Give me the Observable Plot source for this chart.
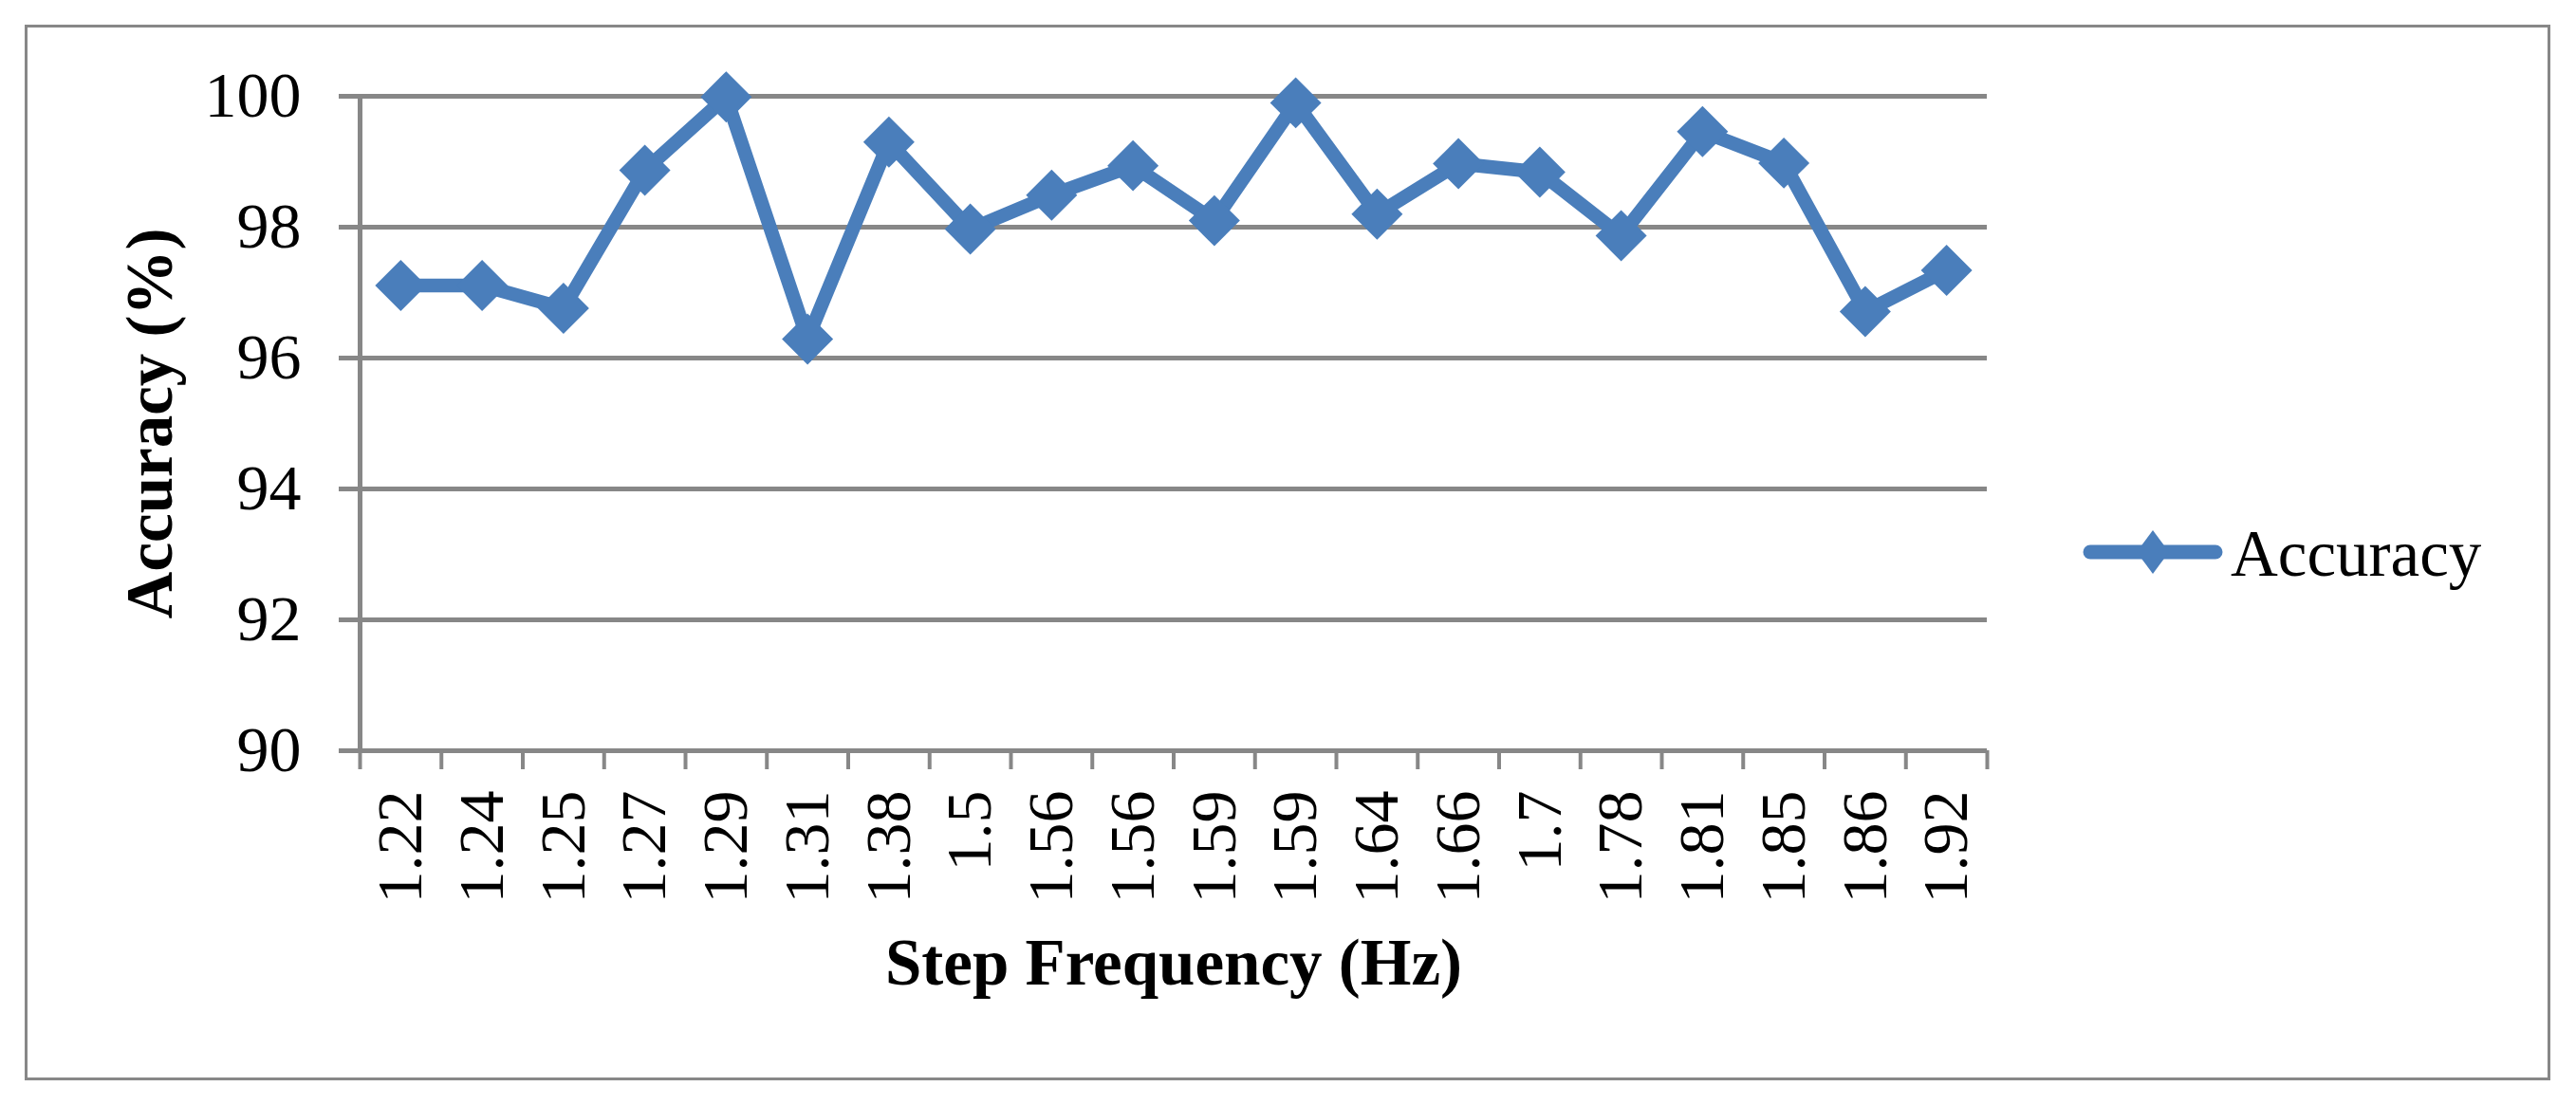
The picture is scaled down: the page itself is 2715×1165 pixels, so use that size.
<!DOCTYPE html>
<html>
<head>
<meta charset="utf-8">
<script src="https://cdn.jsdelivr.net/npm/d3@7"></script>
<script src="https://cdn.jsdelivr.net/npm/@observablehq/plot@0.6"></script>
<style>
  html, body { margin: 0; padding: 0; background: #fff; }
  #wrap { position: relative; width: 2715px; height: 1165px; }
  #legend { position: absolute; left: 0; top: 0; pointer-events: none; }
</style>
</head>
<body>
<div id="wrap"></div>
<script>
// ---- data ----
const categories = ["1.22","1.24","1.25","1.27","1.29","1.31","1.38","1.5","1.56","1.56","1.59","1.59","1.64","1.66","1.7","1.78","1.81","1.85","1.86","1.92"];
const accuracy   = [97.11,97.11,96.76,98.87,99.99,96.29,99.30,97.97,98.49,98.94,98.10,99.90,98.20,98.97,98.84,97.87,99.46,98.98,96.71,97.34];
const yTicks = [90, 92, 94, 96, 98, 100];
const seriesName = "Accuracy";
const xTitle = "Step Frequency (Hz)";
const yTitle = "Accuracy (%)";

const blue = "#4A7EBB";
const gray = "#878787";
const font = "'Liberation Serif', 'Times New Roman', serif";

const data = categories.map((c, i) => ({pos: i + 0.5, label: c, acc: accuracy[i]}));
const boundaries = d3.range(categories.length + 1);
const centers = data.map(d => d.pos);

const chart = Plot.plot({
  width: 2715,
  height: 1165,
  marginLeft: 379,
  marginRight: 621,
  marginTop: 101,
  marginBottom: 374,
  x: {type: "linear", domain: [0, categories.length], label: null},
  y: {domain: [90, 100], label: null},
  style: {fontFamily: font, background: "white", color: "black"},
  marks: [
    // outer chart border
    Plot.frame({stroke: gray, strokeWidth: 3, insetLeft: -352, insetTop: -74, insetRight: -592, insetBottom: -346}),
    // horizontal gridlines
    Plot.gridY({ticks: yTicks, stroke: gray, strokeOpacity: 1, strokeWidth: 5}),
    // y axis ticks (outside) and line
    Plot.axisY({ticks: yTicks, tickSize: 22, stroke: gray, strokeWidth: 5, text: null, label: null}),
    Plot.ruleX([0], {y1: 90, y2: 100, stroke: gray, strokeWidth: 5}),
    // y tick labels
    Plot.axisY({ticks: yTicks, tickSize: 0, tickPadding: 62, fontSize: 68, fill: "black", label: null, tickFormat: d => String(d)}),
    // x ticks at category boundaries
    Plot.axisX({ticks: boundaries, tickSize: 20, stroke: gray, strokeWidth: 4, text: null, label: null}),
    // x category labels
    Plot.axisX({ticks: centers, tickSize: 0, tickPadding: 42, tickRotate: -90, fontSize: 68, fill: "black", label: null,
      tickFormat: d => categories[Math.floor(d)]}),
    // data
    Plot.line(data, {x: "pos", y: "acc", stroke: blue, strokeWidth: 14.5, strokeLinejoin: "round"}),
    Plot.dot(data, {x: "pos", y: "acc", symbol: "diamond2", r: 24.3, fill: blue, stroke: null}),
    // titles
    Plot.text([yTitle], {frameAnchor: "left", dx: -199, rotate: -90, textAnchor: "middle", lineAnchor: "bottom", fontSize: 69, fontWeight: "bold", fill: "black"}),
    Plot.text([xTitle], {frameAnchor: "bottom", dy: 246, textAnchor: "middle", lineAnchor: "bottom", fontSize: 69, fontWeight: "bold", fill: "black"})
  ]
});

const wrap = document.getElementById("wrap");
wrap.appendChild(chart);

// legend (added beside the plot)
const ns = "http://www.w3.org/2000/svg";
const leg = document.createElementNS(ns, "svg");
leg.setAttribute("id", "legend");
leg.setAttribute("width", 2715);
leg.setAttribute("height", 1165);
const ln = document.createElementNS(ns, "line");
ln.setAttribute("x1", 2203); ln.setAttribute("x2", 2335);
ln.setAttribute("y1", 582); ln.setAttribute("y2", 582);
ln.setAttribute("stroke", blue); ln.setAttribute("stroke-width", 15); ln.setAttribute("stroke-linecap", "round");
leg.appendChild(ln);
const dm = document.createElementNS(ns, "path");
dm.setAttribute("d", "M2269,559 L2286,582 L2269,605 L2252,582 Z");
dm.setAttribute("fill", blue);
leg.appendChild(dm);
const tx = document.createElementNS(ns, "text");
tx.setAttribute("x", 2351); tx.setAttribute("y", 607);
tx.setAttribute("font-family", font); tx.setAttribute("font-size", 69); tx.setAttribute("fill", "black");
tx.textContent = seriesName;
leg.appendChild(tx);
wrap.appendChild(leg);
</script>
</body>
</html>
